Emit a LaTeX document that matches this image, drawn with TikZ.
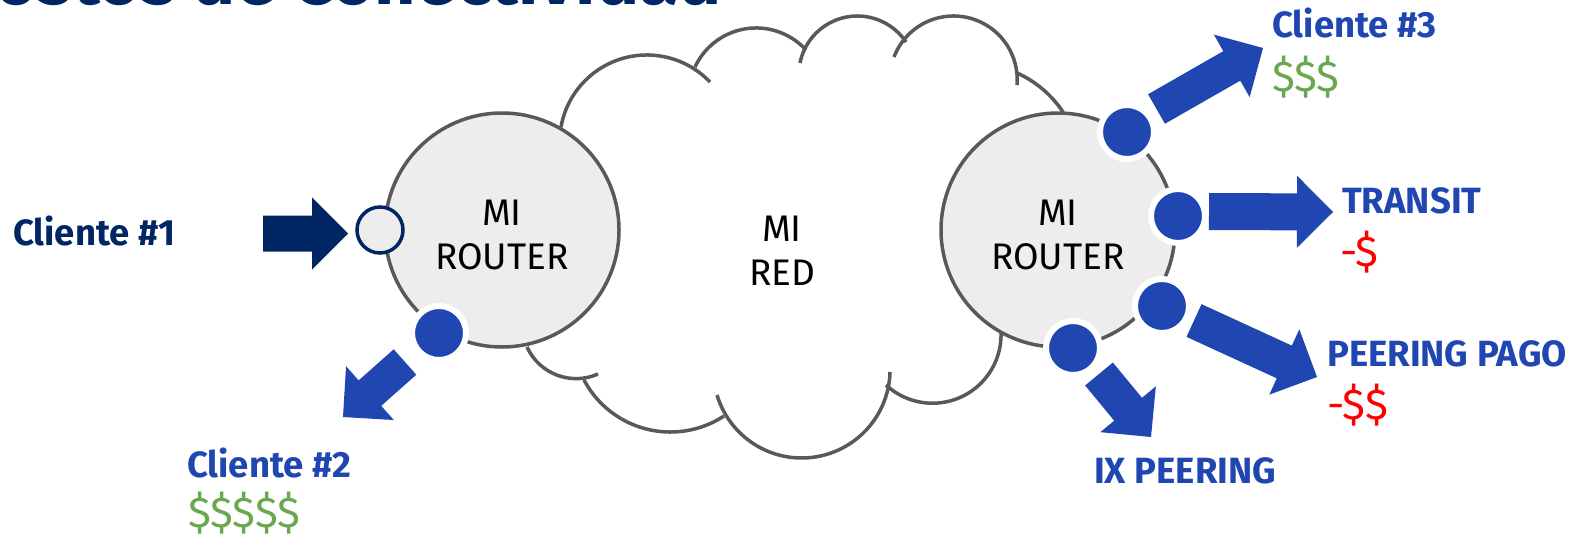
\documentclass[tikz,border=0pt]{standalone}
\usepackage{fontspec}
\setmainfont{Fira Sans}
\usetikzlibrary{calc}
\definecolor{navy}{RGB}{0,38,99}
\definecolor{arrblue}{RGB}{32,71,177}
\definecolor{lgray}{RGB}{237,237,237}
\definecolor{dgray}{RGB}{89,89,89}
\definecolor{cgreen}{RGB}{106,168,79}
\definecolor{cred}{RGB}{255,0,0}
% arc through three points (A, point on arc, C), coordinates in px
\newcommand\cbump[6]{%
 \pgfmathsetmacro\cbBx{(#3-#1)/100}%
 \pgfmathsetmacro\cbBy{(#4-#2)/100}%
 \pgfmathsetmacro\cbCx{(#5-#1)/100}%
 \pgfmathsetmacro\cbCy{(#6-#2)/100}%
 \pgfmathsetmacro\cbD{2*(\cbBx*\cbCy-\cbBy*\cbCx)}%
 \pgfmathsetmacro\cbBB{\cbBx*\cbBx+\cbBy*\cbBy}%
 \pgfmathsetmacro\cbCC{\cbCx*\cbCx+\cbCy*\cbCy}%
 \pgfmathsetmacro\cbUx{(\cbCy*\cbBB-\cbBy*\cbCC)/\cbD}%
 \pgfmathsetmacro\cbUy{(\cbBx*\cbCC-\cbCx*\cbBB)/\cbD}%
 \pgfmathsetmacro\cbR{100*sqrt(\cbUx*\cbUx+\cbUy*\cbUy)}%
 \pgfmathsetmacro\cbAa{atan2(-\cbUy,-\cbUx)}%
 \pgfmathsetmacro\cbAb{atan2(\cbBy-\cbUy,\cbBx-\cbUx)}%
 \pgfmathsetmacro\cbAc{atan2(\cbCy-\cbUy,\cbCx-\cbUx)}%
 \pgfmathsetmacro\cbE{Mod(\cbAc-\cbAa,360)}%
 \pgfmathsetmacro\cbM{Mod(\cbAb-\cbAa,360)}%
 \pgfmathsetmacro\cbEnd{\cbM<\cbE ? \cbAa+\cbE : \cbAa+\cbE-360}%
 \draw[cloudline] (#1,#2) arc[start angle=\cbAa, end angle=\cbEnd, radius=\cbR];%
}
% block arrow: #1 colour, #2 tail, #3 tip, #4 shaft half width, #5 head half width
\newcommand\blockarrow[5]{%
 \coordinate (#3-h) at ($(#3)!36pt!(#2)$);%
 \fill[#1] ($(#2)!#4!90:(#3)$) -- ($(#3-h)!#4!-90:(#2)$) -- ($(#3-h)!#5!-90:(#2)$) -- (#3)
   -- ($(#3-h)!#5!90:(#2)$) -- ($(#3-h)!#4!90:(#2)$) -- ($(#2)!#4!-90:(#3)$) -- cycle;%
}
\begin{document}
\begin{tikzpicture}[x=1pt,y=-1pt,
 cloudline/.style={draw=dgray,line width=3.5pt},
 router/.style={circle,draw=dgray,fill=lgray,line width=3.5pt,minimum size=234pt,inner sep=0pt},
 port/.style={circle,fill=arrblue,draw=white,line width=6pt,minimum size=54pt,inner sep=0pt},
 inport/.style={circle,fill=lgray,draw=navy,line width=3.5pt,minimum size=46pt,inner sep=0pt},
 rtext/.style={font=\fontsize{37}{44}\selectfont,text=black,anchor=base,inner sep=0pt},
 lbl/.style={font=\fontsize{36.5}{42}\selectfont\bfseries,text=arrblue,anchor=base west,inner sep=0pt},
 cost/.style={font=\fontsize{43}{50}\selectfont,anchor=base west,inner sep=0pt},
]
\clip (0,0) rectangle (1573,538);
\fill[white] (0,0) rectangle (1573,538);

% title (cut off at the top)
\node[anchor=base east,font=\fontsize{72}{76}\selectfont\bfseries,text=navy,inner sep=0pt] (title) at (722,5) {Costos de Conectividad};

% cloud
\cbump{561}{127}{649}{55}{710}{82}
\cbump{695}{67}{754}{28}{806}{50}
\cbump{800}{63}{858}{16}{906}{42}
\cbump{894}{57}{955}{16}{1017}{85}
\cbump{1017}{73}{1040}{87}{1063}{112}
\cbump{1001}{333}{927}{403}{886}{385}
\cbump{890}{372}{802}{458}{717}{395}
\cbump{724}{416}{672}{432}{584}{380}
\cbump{598}{374}{568}{378}{527}{347}
\node[rtext] (redA) at (782,241) {MI};
\node[rtext] (redB) at (782,285) {RED};

% routers
\node[router] (r1) at (502,230) {};
\node[router] (r2) at (1058,230) {};
\node[rtext] (r1a) at (502,225) {MI};
\node[rtext] (r1b) at (502,269) {ROUTER};
\node[rtext] (r2a) at (1058,225) {MI};
\node[rtext] (r2b) at (1058,269) {ROUTER};

% ports
\node[inport] (pin) at (380,230) {};
\node[port] (p2) at (439,333) {};
\node[port] (pA) at (1127,132) {};
\node[port] (pB) at (1178,216) {};
\node[port] (pC) at (1162,306) {};
\node[port] (pD) at (1073,348) {};

% arrows
\coordinate (a1t) at (263,233.5); \coordinate (a1h) at (348,233.5);
\coordinate (a2t) at (405,362);   \coordinate (a2h) at (343,417);
\coordinate (a3t) at (1156.5,109);\coordinate (a3h) at (1263,48);
\coordinate (a4t) at (1209,211.5);\coordinate (a4h) at (1333,212);
\coordinate (a5t) at (1194,320.5);\coordinate (a5h) at (1317,377);
\coordinate (a6t) at (1099,374);  \coordinate (a6h) at (1151,437);
\blockarrow{navy}{a1t}{a1h}{18pt}{36pt}
\blockarrow{arrblue}{a2t}{a2h}{17pt}{36pt}
\blockarrow{arrblue}{a3t}{a3h}{17pt}{36pt}
\blockarrow{arrblue}{a4t}{a4h}{18.5pt}{36pt}
\blockarrow{arrblue}{a5t}{a5h}{18pt}{36pt}
\blockarrow{arrblue}{a6t}{a6h}{18pt}{36pt}

% labels
\node[lbl,text=navy] (c1) at (13,245) {Cliente \#1};
\node[lbl] (c2) at (187,477) {Cliente \#2};
\node[cost,text=cgreen] (c2c) at (188,527) {\$\$\$\$\$};
\node[lbl] (c3) at (1272,37) {Cliente \#3};
\node[cost,text=cgreen] (c3c) at (1272,91) {\$\$\$};
\node[lbl] (tr) at (1342,213) {TRANSIT};
\node[cost,text=cred] (trc) at (1340,266) {-\$};
\node[lbl] (pp) at (1327,366) {PEERING PAGO};
\node[cost,text=cred] (ppc) at (1327,419) {-\$\$};
\node[lbl] (ix) at (1094,483) {IX PEERING};
\end{tikzpicture}
\end{document}
